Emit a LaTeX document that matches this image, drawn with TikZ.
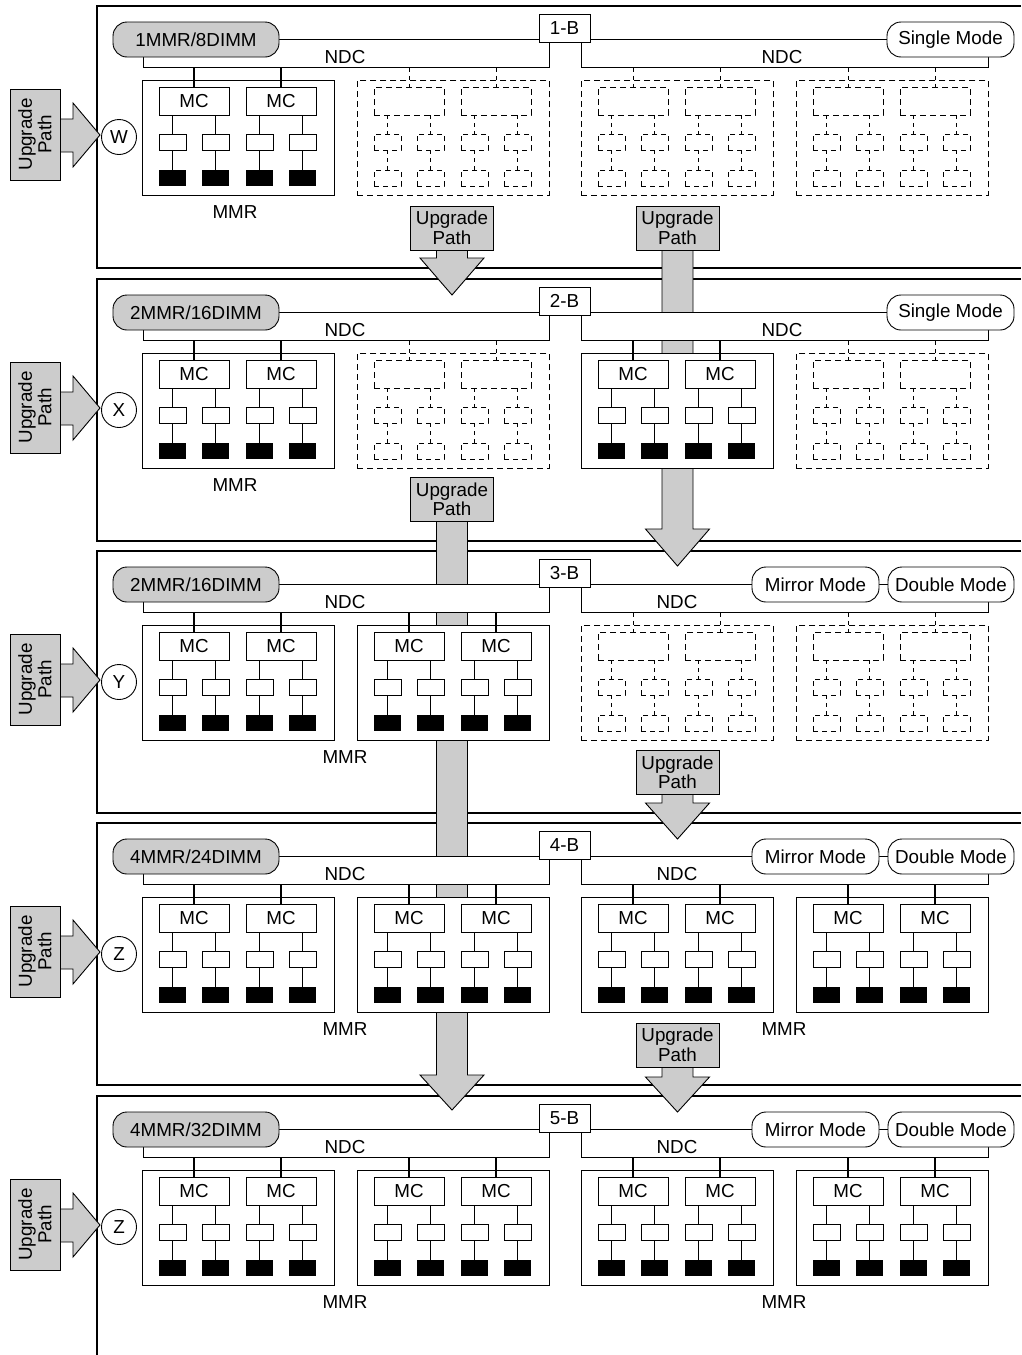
\documentclass[tikz,border=0pt]{standalone}
\usepackage{fontspec}
\setmainfont{Liberation Sans}
\usetikzlibrary{calc}
\definecolor{pgray}{HTML}{CCCCCC}
\tikzset{
  every node/.style={font=\fontsize{18.8}{19.5}\selectfont, inner sep=0pt},
  panelborder/.style={line width=2pt},
  ndcbox/.style={draw, fill=white, line width=0.9pt, minimum height=28pt, anchor=north west},
  pillS/.style={draw, fill=white, rounded corners=14pt, line width=0.9pt, minimum height=35pt},
  cfgpill/.style={pillS, fill=pgray, minimum width=166pt},
  bnode/.style={draw, fill=white, line width=0.9pt, minimum width=51pt, minimum height=28pt},
  circnode/.style={draw, circle, fill=white, line width=0.9pt, minimum size=35pt},
  upbox/.style={draw, fill=pgray, line width=0.9pt, minimum width=83pt, minimum height=44pt, align=center},
  upshape/.style={draw, fill=pgray, line width=0.9pt, line join=miter},
  sidebox/.style={draw, fill=pgray, line width=0.9pt, rotate=90, minimum width=91pt, minimum height=50pt, align=center},
  mmrS/.style={draw, fill=white, line width=0.8pt, minimum width=192pt, minimum height=115pt, anchor=north west},
  mmrD/.style={mmrS, dash pattern=on 6pt off 4pt},
  mcS/.style={draw, fill=white, line width=0.8pt, minimum width=70pt, minimum height=28pt},
  mcD/.style={mcS, dash pattern=on 6pt off 4pt},
  dimS/.style={draw, fill=white, line width=0.8pt, minimum width=27pt, minimum height=16pt},
  dimD/.style={dimS, dash pattern=on 5pt off 4pt},
  blkS/.style={fill=black, minimum width=27pt, minimum height=16pt},
  blkD/.style={draw, line width=0.8pt, minimum width=27pt, minimum height=16pt, dash pattern=on 5pt off 4pt},
  wireS/.style={line width=1.8pt},
  wireD/.style={line width=0.8pt, dash pattern=on 4pt off 4pt},
  dropS/.style={line width=1.5pt},
  dropD/.style={line width=0.8pt, dash pattern=on 4pt off 4pt},
}
\newcommand\mctxtS{MC}
\newcommand\mctxtD{}
% #1 name, #2 left x, #3 panel top, #4 S|D, #5 ndc node
\newcommand\mmrunit[5]{%
  \node[mmr#4] (#1) at (#2,#3+74) {};
  \node[mc#4] (#1c1) at (#2+52,#3+95) {\csname mctxt#4\endcsname};
  \node[mc#4] (#1c2) at (#2+139,#3+95) {\csname mctxt#4\endcsname};
  \foreach \i/\dx/\m in {1/30.5/1,2/73.5/1,3/117.5/2,4/160.5/2}{
    \node[dim#4] (#1s\i) at (#2+\dx,#3+136) {};
    \node[blk#4] (#1k\i) at (#2+\dx,#3+172) {};
    \draw[wire#4] (#1s\i.north |- #1c\m.south) -- (#1s\i.north);
    \draw[wire#4] (#1s\i.south) -- (#1k\i.north);
  }
  \draw[drop#4] (#1c1.north |- #5.south) -- (#1c1.north);
  \draw[drop#4] (#1c2.north |- #5.south) -- (#1c2.north);
}
% side upgrade arrow: #1 name, #2 panel top
\newcommand\sidearrow[2]{%
  \draw[upshape] (60,#2+113) -- (73,#2+113) -- (73,#2+97) -- (100,#2+129) -- (73,#2+161) -- (73,#2+146) -- (60,#2+146) -- cycle;
  \node[sidebox] (#1) at (35,#2+128.5) {Upgrade\\Path};
}
% vertical upgrade arrow: #1 name, #2 cx, #3 box center y, #4 head top, #5 tip
\newcommand\vupgrade[5]{%
  \draw[upshape] (#2-15.5,#3) -- (#2-15.5,#4) -- (#2-32,#4) -- (#2,#5) -- (#2+32,#4) -- (#2+15.5,#4) -- (#2+15.5,#3) -- cycle;
  \node[upbox] (#1) at (#2,#3) {Upgrade\\Path};
}
% panel head: #1 prefix, #2 top, #3 cfg, #4 B label, #5 letter, #6 right NDC x
\newcommand\panelhead[6]{%
  \node[ndcbox, minimum width=406pt] (#1nl) at (143,#2+33) {};
  \node[ndcbox, minimum width=407pt] (#1nr) at (581,#2+33) {};
  \node[cfgpill] (#1cfg) at (196,#2+33.5) {#3};
  \node[bnode] (#1b) at (564.5,#2+22) {#4};
  \node (#1tl) at (345,#2+51) {NDC};
  \node (#1tr) at (#6,#2+51) {NDC};
  \node[circnode] (#1w) at (119,#2+131) {#5};
}
\begin{document}
\begin{tikzpicture}[x=1pt,y=-1pt]
\useasboundingbox (0,0) rectangle (1021,1355);
% panel borders
\foreach \t in {6,279,551,823}{
  \draw[panelborder] (1021,\t) -- (97,\t) -- (97,\t+262) -- (1021,\t+262);
}
\draw[panelborder] (1021,1096) -- (97,1096) -- (97,1355);
% side arrows
\sidearrow{sa1}{6}
\sidearrow{sa2}{279}
\sidearrow{sa3}{551}
\sidearrow{sa4}{823}
\sidearrow{sa5}{1096}
% vertical upgrade arrows
\vupgrade{va1}{452}{228}{258}{295}
\vupgrade{va2}{677.5}{228}{529}{566}
\vupgrade{va3}{452}{499.5}{1075}{1110}
\vupgrade{va4}{677.5}{772.5}{803}{839}
\vupgrade{va5}{677.5}{1045}{1077}{1112}
% panel 1
\panelhead{p1}{6}{1MMR/8DIMM}{1-B}{W}{782}
\node[pillS, minimum width=127pt] (p1single) at (950.5,39.5) {Single Mode};
\mmrunit{p1u1}{142}{6}{S}{p1nl}
\mmrunit{p1u2}{357}{6}{D}{p1nl}
\mmrunit{p1u3}{581}{6}{D}{p1nr}
\mmrunit{p1u4}{796}{6}{D}{p1nr}
\node (p1mmr) at (235,212) {MMR};
% panel 2
\panelhead{p2}{279}{2MMR/16DIMM}{2-B}{X}{782}
\node[pillS, minimum width=127pt] (p2single) at (950.5,312.5) {Single Mode};
\mmrunit{p2u1}{142}{279}{S}{p2nl}
\mmrunit{p2u2}{357}{279}{D}{p2nl}
\mmrunit{p2u3}{581}{279}{S}{p2nr}
\mmrunit{p2u4}{796}{279}{D}{p2nr}
\node (p2mmr) at (235,485) {MMR};
% panel 3
\panelhead{p3}{551}{2MMR/16DIMM}{3-B}{Y}{677}
\node[pillS, minimum width=127pt] (p3mirror) at (815.5,584.5) {Mirror Mode};
\node[pillS, minimum width=126pt] (p3double) at (951,584.5) {Double Mode};
\mmrunit{p3u1}{142}{551}{S}{p3nl}
\mmrunit{p3u2}{357}{551}{S}{p3nl}
\mmrunit{p3u3}{581}{551}{D}{p3nr}
\mmrunit{p3u4}{796}{551}{D}{p3nr}
\node (p3mmr) at (345,757) {MMR};
% panel 4
\panelhead{p4}{823}{4MMR/24DIMM}{4-B}{Z}{677}
\node[pillS, minimum width=127pt] (p4mirror) at (815.5,856.5) {Mirror Mode};
\node[pillS, minimum width=126pt] (p4double) at (951,856.5) {Double Mode};
\mmrunit{p4u1}{142}{823}{S}{p4nl}
\mmrunit{p4u2}{357}{823}{S}{p4nl}
\mmrunit{p4u3}{581}{823}{S}{p4nr}
\mmrunit{p4u4}{796}{823}{S}{p4nr}
\node (p4mmra) at (345,1029) {MMR};
\node (p4mmrb) at (784,1029) {MMR};
% panel 5
\panelhead{p5}{1096}{4MMR/32DIMM}{5-B}{Z}{677}
\node[pillS, minimum width=127pt] (p5mirror) at (815.5,1129.5) {Mirror Mode};
\node[pillS, minimum width=126pt] (p5double) at (951,1129.5) {Double Mode};
\mmrunit{p5u1}{142}{1096}{S}{p5nl}
\mmrunit{p5u2}{357}{1096}{S}{p5nl}
\mmrunit{p5u3}{581}{1096}{S}{p5nr}
\mmrunit{p5u4}{796}{1096}{S}{p5nr}
\node (p5mmra) at (345,1302) {MMR};
\node (p5mmrb) at (784,1302) {MMR};
\end{tikzpicture}
\end{document}
